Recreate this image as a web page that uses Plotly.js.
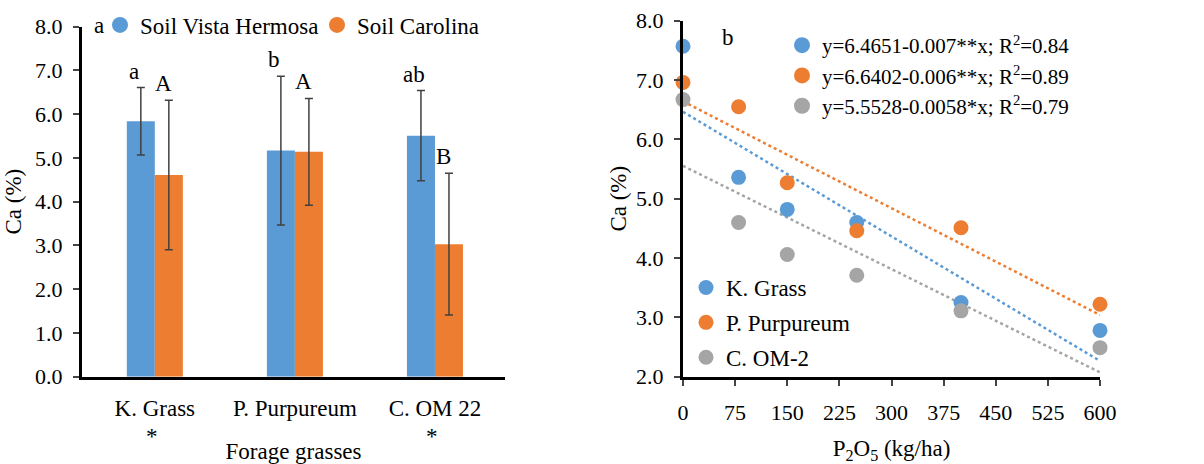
<!DOCTYPE html>
<html>
<head>
<meta charset="utf-8">
<script src="https://cdn.plot.ly/plotly-3.0.1.min.js"></script>
<style>html,body{margin:0;padding:0;background:#fff;}#chart{width:1204px;height:464px;}</style>
</head>
<body>
<div id="chart"></div>
<script>
// ---- Panel a: Ca (%) by forage grass and soil ----
const categories = ['K. Grass', 'P. Purpureum', 'C. OM 22'];
const vistaHermosa = [5.84, 5.17, 5.51];
const vistaHermosaErr = [0.77, 1.70, 1.03];
const carolina = [4.61, 5.14, 3.03];
const carolinaErr = [1.71, 1.22, 1.62];
const vistaLetters = ['a', 'b', 'ab'];
const carolinaLetters = ['A', 'A', 'B'];
const significance = ['*', '', '*'];

// ---- Panel b: Ca (%) vs P2O5 ----
const p2o5 = [0, 80, 150, 250, 400, 600];
const kGrass = [7.57, 5.36, 4.82, 4.60, 3.25, 2.78];
const pPurpureum = [6.96, 6.55, 5.27, 4.46, 4.51, 3.22];
const cOM2 = [6.67, 4.60, 4.06, 3.71, 3.11, 2.49];
const seriesNames = ['K. Grass', 'P. Purpureum', 'C. OM-2'];
const intercepts = [6.4651, 6.6402, 5.5528];
const slopes = [-0.007, -0.006, -0.0058];
const equations = [
  'y=6.4651-0.007**x; R<sup>2</sup>=0.84',
  'y=6.6402-0.006**x; R<sup>2</sup>=0.89',
  'y=5.5528-0.0058*x; R<sup>2</sup>=0.79'
];

const BLUE = '#5B9BD5', ORANGE = '#ED7D31', GRAY = '#A5A5A5';
const colors = [BLUE, ORANGE, GRAY];
const FONT = 'Liberation Serif, Times New Roman, serif';
function f(size) { return {family: FONT, size: size, color: '#000'}; }

const traces = [];
traces.push({
  type: 'bar', x: categories, y: vistaHermosa, name: 'Soil Vista Hermosa',
  marker: {color: BLUE}, showlegend: false, xaxis: 'x', yaxis: 'y',
  error_y: {type: 'data', array: vistaHermosaErr, color: '#404040', thickness: 1.5, width: 4}
});
traces.push({
  type: 'bar', x: categories, y: carolina, name: 'Soil Carolina',
  marker: {color: ORANGE}, showlegend: false, xaxis: 'x', yaxis: 'y',
  error_y: {type: 'data', array: carolinaErr, color: '#404040', thickness: 1.5, width: 4}
});
[['Soil Vista Hermosa', BLUE], ['Soil Carolina', ORANGE]].forEach(function (d) {
  traces.push({type: 'scatter', mode: 'markers', x: [null], y: [null], name: d[0],
    marker: {color: d[1], size: 16}, xaxis: 'x', yaxis: 'y', legend: 'legend', hoverinfo: 'skip'});
});

const seriesY = [kGrass, pPurpureum, cOM2];
const xMin = Math.min.apply(null, p2o5), xMax = Math.max.apply(null, p2o5);
seriesY.forEach(function (ys, i) {
  traces.push({
    type: 'scatter', mode: 'lines', x: [xMin, xMax],
    y: [intercepts[i] + slopes[i] * xMin, intercepts[i] + slopes[i] * xMax],
    line: {color: colors[i], width: 2.5, dash: 'dot'}, showlegend: false,
    xaxis: 'x2', yaxis: 'y2', hoverinfo: 'skip'
  });
});
seriesY.forEach(function (ys, i) {
  traces.push({
    type: 'scatter', mode: 'markers', x: p2o5, y: ys, name: seriesNames[i],
    marker: {color: colors[i], size: 15}, cliponaxis: false,
    xaxis: 'x2', yaxis: 'y2', legend: 'legend2', legendgroup: 'g' + i
  });
});
equations.forEach(function (eq, i) {
  traces.push({
    type: 'scatter', mode: 'markers', x: [null], y: [null], name: eq,
    marker: {color: colors[i], size: 16}, xaxis: 'x2', yaxis: 'y2',
    legend: 'legend3', legendgroup: 'e' + i, hoverinfo: 'skip'
  });
});

const annotations = [];
categories.forEach(function (c, i) {
  annotations.push({xref: 'x', yref: 'y', x: i - 0.15, y: vistaHermosa[i] + vistaHermosaErr[i],
    text: vistaLetters[i], showarrow: false, yanchor: 'bottom', yshift: 2, font: f(23)});
  annotations.push({xref: 'x', yref: 'y', x: i + 0.06, y: carolina[i] + carolinaErr[i],
    text: carolinaLetters[i], showarrow: false, yanchor: 'bottom', yshift: 2, font: f(23)});
  if (significance[i]) {
    annotations.push({xref: 'x', yref: 'paper', x: i - 0.02, y: 1 - 436 / 464,
      xanchor: 'center', yanchor: 'middle',
      text: significance[i], showarrow: false, font: f(23)});
  }
});
annotations.push({xref: 'paper', yref: 'paper', x: 99 / 1204, y: 1 - 25 / 464, text: 'a',
  xanchor: 'center', yanchor: 'middle', showarrow: false, font: f(23)});
annotations.push({xref: 'paper', yref: 'paper', x: 728 / 1204, y: 1 - 37 / 464, text: 'b',
  xanchor: 'center', yanchor: 'middle', showarrow: false, font: f(23)});

const axisCommon = {
  showline: true, linecolor: '#000', linewidth: 3, showgrid: false, zeroline: false,
  tickfont: f(22), automargin: false
};

const layout = {
  width: 1204, height: 464,
  margin: {l: 0, r: 0, t: 0, b: 0},
  paper_bgcolor: '#fff', plot_bgcolor: '#fff',
  font: {family: FONT, color: '#000', size: 22},
  barmode: 'group', bargap: 0.6, bargroupgap: 0,
  xaxis: Object.assign({}, axisCommon, {
    domain: [82 / 1204, 505 / 1204], type: 'category', range: [-0.52, 2.5],
    ticks: '', ticklabelstandoff: 9, tickfont: f(23),
    title: {text: 'Forage grasses', font: f(23), standoff: 24}, anchor: 'y'
  }),
  yaxis: Object.assign({}, axisCommon, {
    domain: [1 - 376.7 / 464, 1 - 26.7 / 464], range: [0, 8], dtick: 1, tick0: 0,
    tickformat: '.1f', ticks: 'outside', ticklen: 6, tickwidth: 2, ticklabelstandoff: 6,
    title: {text: 'Ca (%)', font: f(23), standoff: 8}, anchor: 'x'
  }),
  xaxis2: Object.assign({}, axisCommon, {
    domain: [683 / 1204, 1100 / 1204], range: [0, 600], dtick: 75, tick0: 0,
    ticks: 'outside', ticklen: 6, tickwidth: 2, ticklabelstandoff: 8,
    title: {text: 'P<sub>2</sub>O<sub>5</sub> (kg/ha)', font: f(23), standoff: 20}, anchor: 'y2'
  }),
  yaxis2: Object.assign({}, axisCommon, {
    domain: [1 - 376.7 / 464, 1 - 20.7 / 464], range: [2, 8], dtick: 1, tick0: 2,
    tickformat: '.1f', ticks: 'outside', ticklen: 6, tickwidth: 2, ticklabelstandoff: 6,
    title: {text: 'Ca (%)', font: f(23), standoff: 4}, anchor: 'x2'
  }),
  legend: {
    orientation: 'h', x: 100 / 1204, xanchor: 'left', y: 1 - 25 / 464, yanchor: 'middle',
    font: f(23), bgcolor: 'rgba(0,0,0,0)', entrywidth: 172, entrywidthmode: 'pixels'
  },
  legend2: {
    orientation: 'v', x: 686 / 1204, xanchor: 'left', y: 1 - 266 / 464, yanchor: 'top',
    font: f(23), bgcolor: 'rgba(0,0,0,0)', tracegroupgap: 2
  },
  legend3: {
    orientation: 'v', x: 782 / 1204, xanchor: 'left', y: 1 - 25 / 464, yanchor: 'top',
    font: f(21), bgcolor: 'rgba(0,0,0,0)', tracegroupgap: 0
  },
  annotations: annotations,
  showlegend: true
};

Plotly.newPlot('chart', traces, layout, {staticPlot: true, displayModeBar: false});
</script>
</body>
</html>
